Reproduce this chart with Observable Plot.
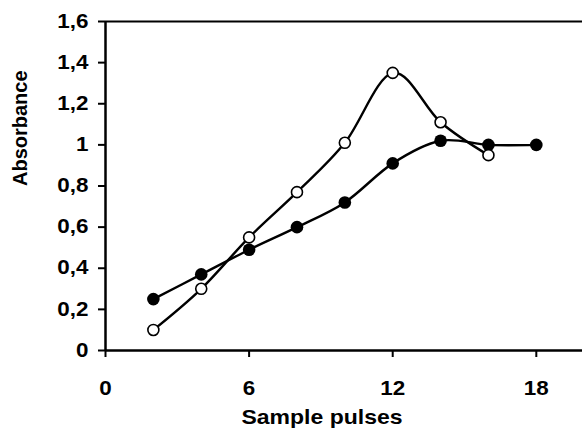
<!DOCTYPE html>
<html>
<head>
<meta charset="utf-8">
<script src="https://cdn.jsdelivr.net/npm/d3@7"></script>
<script src="https://cdn.jsdelivr.net/npm/@observablehq/plot@0.6"></script>
<style>
  html, body { margin: 0; padding: 0; background: #fff; }
  svg { display: block; }
</style>
</head>
<body>
<div id="chart"></div>
<script>
// Data
const pulsesFilled = [2, 4, 6, 8, 10, 12, 14, 16, 18];
const absorbanceFilled = [0.25, 0.37, 0.49, 0.60, 0.72, 0.91, 1.02, 1.00, 1.00];
const pulsesOpen = [2, 4, 6, 8, 10, 12, 14, 16];
const absorbanceOpen = [0.10, 0.30, 0.55, 0.77, 1.01, 1.35, 1.11, 0.95];
const xTicks = [0, 6, 12, 18];
const yTicks = [0, 0.2, 0.4, 0.6, 0.8, 1, 1.2, 1.4, 1.6];
const xLabel = "Sample pulses";
const yLabel = "Absorbance";

const filled = pulsesFilled.map((x, i) => ({x, y: absorbanceFilled[i]}));
const open = pulsesOpen.map((x, i) => ({x, y: absorbanceOpen[i]}));

const fmt = d => String(d).replace(".", ",");
const font = "'Liberation Sans', Arial, sans-serif";

const chart = Plot.plot({
  width: 582,
  height: 437,
  marginLeft: 105,
  marginRight: 0,
  marginTop: 21,
  marginBottom: 87,
  style: {fontFamily: font, fontWeight: "bold", color: "#000", background: "#fff"},
  x: {domain: [0, 19.93]},
  y: {domain: [0, 1.6]},
  marks: [
    Plot.ruleY([1.6], {stroke: "#000", strokeWidth: 2.2}),
    Plot.axisX({ticks: xTicks, tickSize: 7, tickPadding: 24, tickFormat: fmt, fontSize: 19.5, fontWeight: "bold", strokeWidth: 2, label: null}),
    Plot.axisY({ticks: yTicks, tickSize: 7, tickPadding: 10, tickFormat: fmt, fontSize: 19.5, fontWeight: "bold", strokeWidth: 2, label: null}),
    Plot.ruleY([0], {stroke: "#000", strokeWidth: 2.5}),
    Plot.ruleX([0], {stroke: "#000", strokeWidth: 2.5}),
    Plot.line(filled, {x: "x", y: "y", curve: "cardinal", stroke: "#000", strokeWidth: 2.4}),
    Plot.line(open, {x: "x", y: "y", curve: "cardinal", stroke: "#000", strokeWidth: 2.4}),
    Plot.dot(filled, {x: "x", y: "y", r: 6.3, fill: "#000", stroke: "none"}),
    Plot.dot(open, {x: "x", y: "y", r: 5.5, fill: "#fff", stroke: "#000", strokeWidth: 1.6}),
    Plot.text([xLabel], {frameAnchor: "bottom", dx: -22, dy: 73, fontSize: 20, fontWeight: "bold", fill: "#000"}),
    Plot.text([yLabel], {frameAnchor: "left", dx: -85, rotate: -90, fontSize: 20, fontWeight: "bold", fill: "#000"})
  ]
});
document.getElementById("chart").appendChild(chart);

// The reference's horizontal text is drawn about 15% wider than normal Arial.
const stretch = 1.15;
d3.select(chart).selectAll("text").each(function() {
  const t = this;
  const tf = t.getAttribute("transform") || "";
  if (/rotate/.test(tf)) return;
  const anchor = getComputedStyle(t).textAnchor || t.getAttribute("text-anchor") || "middle";
  const b = t.getBBox();
  const ax = anchor === "end" ? b.x + b.width : anchor === "start" ? b.x : b.x + b.width / 2;
  t.setAttribute("transform", `${tf} translate(${ax},0) scale(${stretch},1) translate(${-ax},0)`.trim());
});
</script>
</body>
</html>
